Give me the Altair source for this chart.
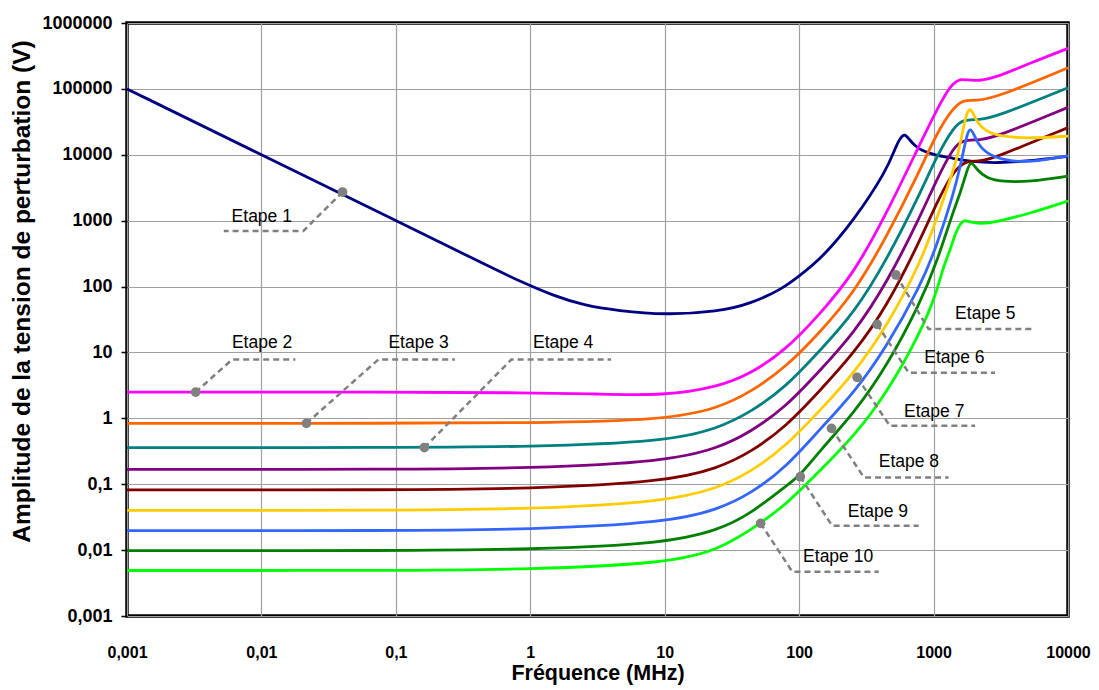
import altair as alt
import pandas as pd

# ---------------- data ----------------
x_ticks = [0.001, 0.01, 0.1, 1, 10, 100, 1000, 10000]
y_ticks = [0.001, 0.01, 0.1, 1, 10, 100, 1000, 10000, 100000, 1000000]

etapes = ["Etape 1", "Etape 2", "Etape 3", "Etape 4", "Etape 5",
          "Etape 6", "Etape 7", "Etape 8", "Etape 9", "Etape 10"]
colors = ["#000080", "#FF00FF", "#FF6600", "#008080", "#800080",
          "#800000", "#FFCC00", "#3366FF", "#008000", "#00FF00"]

f1 = [0.001, 0.01, 0.1, 0.5, 0.8, 1.5, 2.5, 4.5, 10, 25, 44, 77, 100, 145, 255, 450, 520, 570, 610, 660, 720, 800, 1000, 1400, 1900, 3000, 5000, 10000]
v1 = [100000, 10000, 1000, 200, 125, 72, 52, 43, 37, 41.5, 55, 95, 145, 260, 1000, 5900, 13000, 18500, 21000, 17000, 14000, 11800, 10000, 8850, 7800, 7500, 8000, 9500]

f2 = [0.001, 0.1, 1, 3, 10, 25, 44, 80, 144, 255, 448, 795, 1180, 1410, 1580, 1750, 2150, 3000, 5200, 10000]
v2 = [2.5, 2.5, 2.45, 2.35, 2.2, 3.0, 4.8, 11, 39, 158, 1290, 14900, 76000, 125000, 141000, 137000, 131000, 152000, 245000, 412000]

f3 = [0.001, 0.1, 1, 10, 25, 44, 80, 144, 255, 448, 795, 1050, 1410, 1680, 2040, 2970, 10000]
v3 = [0.84, 0.84, 0.85, 0.94, 1.42, 2.53, 6.0, 20.6, 79, 570, 5860, 21000, 53000, 69000, 65300, 74500, 209000]

f4 = [0.001, 0.1, 1, 10, 25, 44, 80, 144, 255, 448, 795, 1050, 1410, 1680, 2150, 2970, 10000]
v4 = [0.36, 0.36, 0.37, 0.44, 0.70, 1.26, 3.0, 10.9, 39, 252, 2600, 9300, 26600, 34500, 33700, 38000, 104000]

f5 = [0.001, 0.1, 1, 10, 25, 44, 80, 144, 255, 448, 795, 1050, 1410, 1650, 2200, 2970, 10000]
v5 = [0.168, 0.168, 0.175, 0.22, 0.35, 0.63, 1.5, 5.4, 19.5, 112, 1150, 4150, 13200, 16700, 16700, 18800, 52400]

f6 = [0.001, 0.1, 1, 10, 25, 44, 80, 144, 255, 448, 795, 1050, 1410, 1780, 2200, 2970, 10000]
v6 = [0.082, 0.082, 0.085, 0.109, 0.174, 0.31, 0.75, 2.69, 9.7, 49, 505, 1830, 5860, 8300, 7800, 9300, 25800]

f7 = [0.001, 0.1, 1, 10, 25, 44, 80, 144, 255, 448, 795, 1050, 1490, 1580, 1720, 1870, 2100, 2480, 3250, 5200, 10000]
v7 = [0.040, 0.040, 0.042, 0.054, 0.087, 0.155, 0.38, 1.34, 4.8, 24.5, 225, 1020, 8300, 15000, 36000, 58000, 30000, 22400, 18800, 17700, 19200]

f8 = [0.001, 0.1, 1, 10, 25, 44, 80, 144, 255, 448, 795, 1050, 1410, 1580, 1720, 1870, 2100, 2480, 3250, 5200, 10000]
v8 = [0.0197, 0.0197, 0.0205, 0.026, 0.041, 0.073, 0.18, 0.70, 2.4, 12.2, 100, 400, 2600, 6600, 15500, 30000, 14900, 10500, 8300, 7550, 9660]

f9 = [0.001, 0.1, 1, 10, 25, 44, 80, 100, 144, 255, 448, 795, 1050, 1410, 1580, 1780, 1900, 2100, 2480, 3250, 5200, 10000]
v9 = [0.0098, 0.0098, 0.0102, 0.0126, 0.020, 0.036, 0.095, 0.13, 0.33, 1.19, 6.1, 56, 225, 1450, 2600, 6000, 8300, 5860, 4400, 3900, 3900, 4750]

f10 = [0.001, 0.1, 1, 10, 25, 51.7, 81.5, 144, 255, 448, 795, 1050, 1180, 1330, 1450, 1580, 1700, 1850, 2200, 2970, 5200, 10000]
v10 = [0.0049, 0.0049, 0.0051, 0.0063, 0.0098, 0.0255, 0.051, 0.164, 0.53, 2.4, 19.5, 79, 200, 357, 640, 910, 1020, 960, 890, 960, 1290, 1990]

curves_f = [f1, f2, f3, f4, f5, f6, f7, f8, f9, f10]
curves_v = [v1, v2, v3, v4, v5, v6, v7, v8, v9, v10]

# annotations: dot on curve, elbow, end of dashed leader, label anchor
dot_f = [0.0401, 0.00324, 0.0216, 0.163, 525, 380, 270, 174, 102, 51.7]
dot_v = [2720, 2.5, 0.84, 0.36, 150, 26.7, 4.19, 0.705, 0.130, 0.0255]
elbow_f = [0.0205, 0.00605, 0.0741, 0.723, 918, 653, 472, 303, 176, 88.9]
elbow_v = [697, 7.8, 7.8, 7.8, 22.6, 4.92, 0.772, 0.127, 0.0234, 0.0047]
end_f = [0.00525, 0.0179, 0.275, 3.99, 5370, 2864, 2037, 1292, 774, 391]
label_f = [0.0060, 0.00603, 0.088, 1.047, 1446, 852, 603, 391, 230, 107]
label_v = [1135, 13.7, 13.7, 13.7, 38.3, 8.13, 1.26, 0.215, 0.0383, 0.00777]

# ---------------- tables ----------------
rows = []
for name, fs, vs in zip(etapes, curves_f, curves_v):
    for i, (f, v) in enumerate(zip(fs, vs)):
        rows.append({"etape": name, "f": f, "v": v, "i": i})
df = pd.DataFrame(rows)

lead_rows = []
for k, name in enumerate(etapes):
    lead_rows.append({"etape": name, "f": dot_f[k], "v": dot_v[k], "i": 0})
    lead_rows.append({"etape": name, "f": elbow_f[k], "v": elbow_v[k], "i": 1})
    lead_rows.append({"etape": name, "f": end_f[k], "v": elbow_v[k], "i": 2})
df_lead = pd.DataFrame(lead_rows)
df_dot = pd.DataFrame({"etape": etapes, "f": dot_f, "v": dot_v})
df_lab = pd.DataFrame({"etape": etapes, "f": label_f, "v": label_v})

FONT = "Liberation Sans"
xscale = alt.Scale(type="log", domain=[0.001, 10000], nice=False)
yscale = alt.Scale(type="log", domain=[0.001, 1000000], nice=False)

fmt = "datum.value >= 1 ? format(datum.value, 'd') : replace(format(datum.value, '.3~f'), '.', ',')"

xaxis = alt.Axis(values=x_ticks, labelExpr=fmt, title="Fréquence (MHz)",
                 grid=True, gridColor="#a0a0a0", gridWidth=1.2,
                 domain=False, ticks=False, tickSize=0,
                 labelFont=FONT, labelFontWeight="bold", labelFontSize=16,
                 labelColor="black", labelPadding=36, labelBaseline="middle",
                 labelFlush=False,
                 titleFont=FONT, titleFontWeight="bold", titleFontSize=21.5,
                 titleColor="black", titleBaseline="middle", titleY=57)
yaxis = alt.Axis(values=y_ticks, labelExpr=fmt,
                 title="Amplitude de la tension de perturbation (V)",
                 grid=True, gridColor="#a0a0a0", gridWidth=1.2,
                 domain=False, ticks=True, tickSize=6, tickColor="black",
                 tickWidth=1.5,
                 labelFont=FONT, labelFontWeight="bold", labelFontSize=18,
                 labelColor="black", labelPadding=9, labelFlush=False,
                 titleFont=FONT, titleFontWeight="bold", titleFontSize=24.5,
                 titleColor="black", titleBaseline="middle", titleX=-105, titleY=268)

lines = alt.Chart(df).mark_line(strokeWidth=2.8, interpolate="basis").encode(
    color=alt.Color("etape:N", scale=alt.Scale(domain=etapes, range=colors), legend=None),
    detail="etape:N",
    order="i:Q",
)

leaders = alt.Chart(df_lead).mark_line(strokeWidth=2.5, strokeDash=[6, 4], color="#808080").encode(
    detail="etape:N",
    order="i:Q",
)

dots = alt.Chart(df_dot).mark_circle(size=95, color="#808080", opacity=1)

labels = alt.Chart(df_lab).mark_text(align="left", baseline="middle", fontSize=17.5,
                                     font=FONT, color="black").encode(
    text="etape:N",
)

chart = alt.layer(lines, leaders, dots, labels).encode(
    x=alt.X("f:Q", scale=xscale, axis=xaxis),
    y=alt.Y("v:Q", scale=yscale, axis=yaxis),
).properties(
    width=941, height=593,
    padding={"left": 119, "top": 15, "right": 23, "bottom": 72},
    autosize=alt.AutoSizeParams(type="none"),
    background="white",
).configure_view(stroke="black", strokeWidth=3.5)

chart.save("out.html", embed_options={"renderer": "svg", "actions": False})
